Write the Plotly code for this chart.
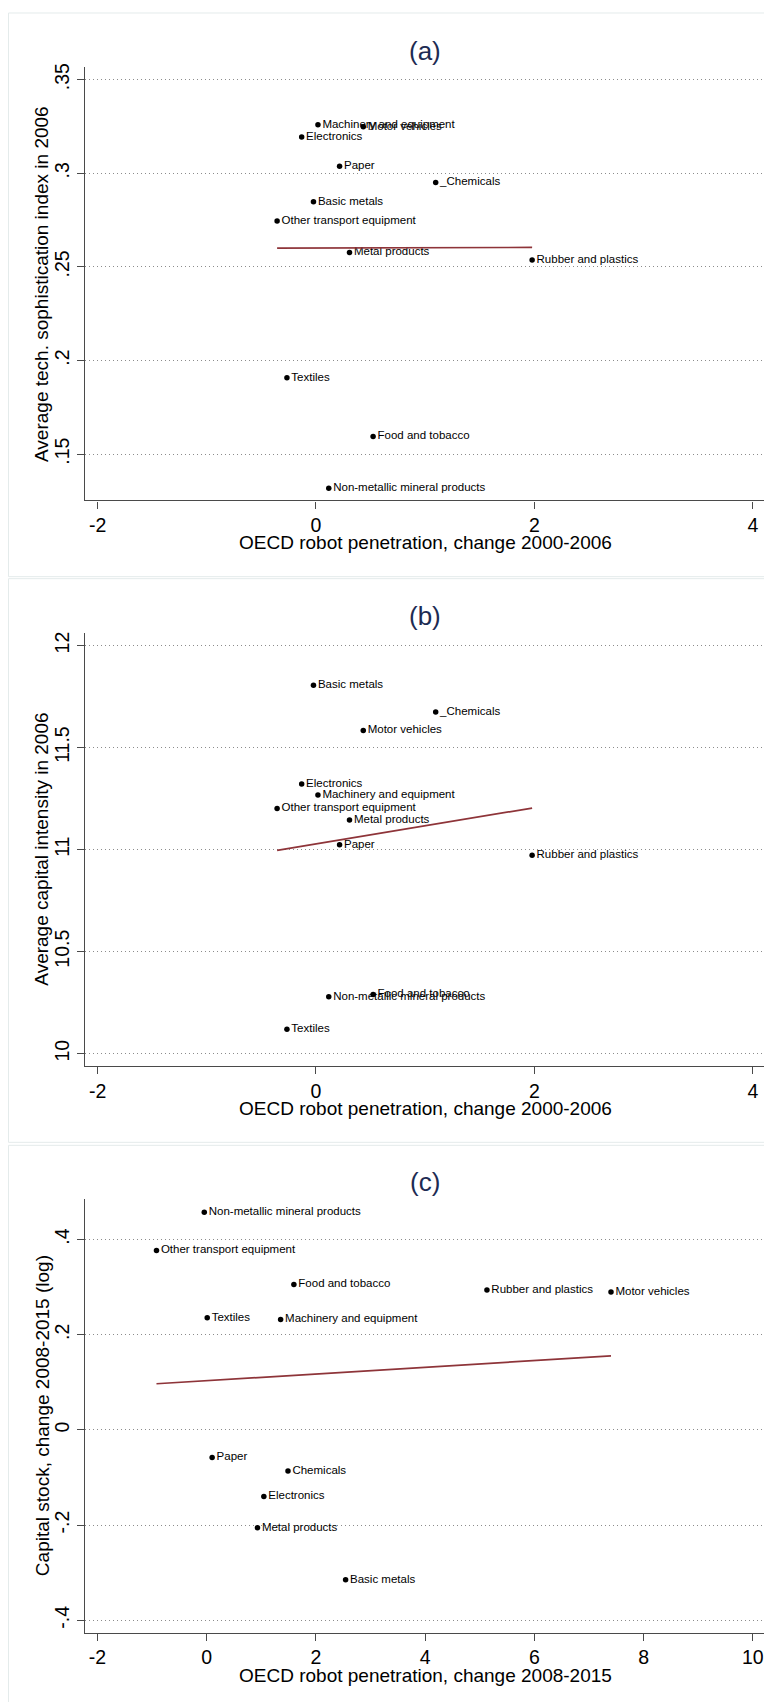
import numpy as np
import plotly.graph_objects as go

# ---------------- data ----------------
industries_ab = ["Machinery and equipment", "Motor vehicles", "Electronics", "Paper",
                 "_Chemicals", "Basic metals", "Other transport equipment", "Metal products",
                 "Rubber and plastics", "Textiles", "Food and tobacco",
                 "Non-metallic mineral products"]
robot_change_2000_2006 = [0.018, 0.433, -0.131, 0.216, 1.096, -0.023, -0.356, 0.307,
                          1.979, -0.266, 0.523, 0.117]
tech_soph_2006 = [0.3259, 0.3248, 0.3194, 0.3037, 0.2950, 0.2847, 0.2745, 0.2577,
                  0.2537, 0.1908, 0.1593, 0.1317]
cap_intensity_2006 = [11.267, 11.583, 11.321, 11.024, 11.674, 11.805, 11.201, 11.145,
                      10.972, 10.119, 10.290, 10.279]

industries_c = ["Non-metallic mineral products", "Other transport equipment", "Food and tobacco",
                "Rubber and plastics", "Motor vehicles", "Textiles", "Machinery and equipment",
                "Paper", "Chemicals", "Electronics", "Metal products", "Basic metals"]
robot_change_2008_2015 = [-0.045, -0.92, 1.596, 5.131, 7.403, 0.009, 1.353, 0.099,
                          1.488, 1.046, 0.929, 2.543]
capstock_change_2008_2015 = [0.4574, 0.3771, 0.3052, 0.2937, 0.2899, 0.2356, 0.2317,
                             -0.0581, -0.0864, -0.140, -0.2057, -0.3151]

panel_titles = ["(a)", "(b)", "(c)"]
x_titles = ["OECD robot penetration, change 2000-2006",
            "OECD robot penetration, change 2000-2006",
            "OECD robot penetration, change 2008-2015"]
y_titles = ["Average tech. sophistication index in 2006",
            "Average capital intensity in 2006",
            "Capital stock, change 2008-2015 (log)"]
x_tickvals = [[-2, 0, 2, 4], [-2, 0, 2, 4], [-2, 0, 2, 4, 6, 8, 10]]
x_ticktext = [["-2", "0", "2", "4"], ["-2", "0", "2", "4"],
              ["-2", "0", "2", "4", "6", "8", "10"]]
y_tickvals = [[0.15, 0.2, 0.25, 0.3, 0.35], [10, 10.5, 11, 11.5, 12],
              [-0.4, -0.2, 0, 0.2, 0.4]]
y_ticktext = [[".15", ".2", ".25", ".3", ".35"], ["10", "10.5", "11", "11.5", "12"],
              ["-.4", "-.2", "0", ".2", ".4"]]

# ---------------- layout geometry (page pixels) ----------------
PAGE_W, PAGE_H = 772, 1702
OFF = 8  # default body margin of the html page
W, H = PAGE_W - OFF, PAGE_H - OFF
FONT = "Liberation Sans, Arial, Helvetica, sans-serif"
plot_left, plot_right = 85, 765.6
panels = [
    dict(top=63.6, bot=497.6, xr=[-2.115, 4.117], yr=[0.1252, 0.3565],
         ty=47, xty=540, ft=9, fb=574),
    dict(top=630.7, bot=1064.6, xr=[-2.115, 4.117], yr=[9.939, 12.06],
         ty=613, xty=1107.5, ft=576, fb=1141),
    dict(top=1198.2, bot=1632.7, xr=[-2.229, 10.234], yr=[-0.4266, 0.4843],
         ty=1181, xty=1675.4, ft=1144, fb=1720),
]

data_sets = [
    (robot_change_2000_2006, tech_soph_2006, industries_ab),
    (robot_change_2000_2006, cap_intensity_2006, industries_ab),
    (robot_change_2008_2015, capstock_change_2008_2015, industries_c),
]


def px_x(p):
    return (p - OFF) / W


def px_y(p):
    return 1 - (p - OFF) / H


fig = go.Figure()
annotations = []
shapes = []
axis_common = dict(showline=True, linecolor="#4a4a4a", linewidth=1.2, ticks="outside",
                   ticklen=7, tickwidth=1.2, tickcolor="#4a4a4a", zeroline=False,
                   tickfont=dict(family=FONT, size=19.5, color="#000000"), mirror=False)

for i, (pn, (xs, ys, labels)) in enumerate(zip(panels, data_sets)):
    k = "" if i == 0 else str(i + 1)
    xa, ya = "x" + k, "y" + k
    fig.add_trace(go.Scatter(
        x=xs, y=ys, text=labels, mode="markers+text", textposition="middle right",
        marker=dict(color="#000000", size=5.5),
        textfont=dict(family=FONT, size=11.5, color="#000000"),
        cliponaxis=False, showlegend=False, xaxis=xa, yaxis=ya, hoverinfo="skip"))
    slope, intercept = np.polyfit(np.array(xs), np.array(ys), 1)
    fx = np.array([min(xs), max(xs)])
    fig.add_trace(go.Scatter(
        x=fx, y=slope * fx + intercept, mode="lines",
        line=dict(color="#8e3439", width=1.7), showlegend=False,
        xaxis=xa, yaxis=ya, hoverinfo="skip"))

    fig.layout["xaxis" + k] = dict(
        axis_common, domain=[px_x(plot_left), min(1, px_x(plot_right))], anchor=ya,
        range=pn["xr"], tickvals=x_tickvals[i], ticktext=x_ticktext[i], showgrid=False)
    fig.layout["yaxis" + k] = dict(
        axis_common, domain=[px_y(pn["bot"]), px_y(pn["top"])], anchor=xa,
        range=pn["yr"], tickvals=y_tickvals[i], ticktext=y_ticktext[i], tickangle=-90,
        showgrid=True, gridcolor="#8c8c8c", griddash="1px,3px", gridwidth=1)

    annotations.append(dict(text=panel_titles[i], xref="paper", yref="paper",
                            x=px_x(424.5), y=px_y(pn["ty"]), xanchor="center",
                            yanchor="middle", showarrow=False,
                            font=dict(family=FONT, size=26, color="#1d2b53")))
    annotations.append(dict(text=x_titles[i], xref="paper", yref="paper",
                            x=px_x((plot_left + plot_right) / 2), y=px_y(pn["xty"]),
                            xanchor="center", yanchor="middle", showarrow=False,
                            font=dict(family=FONT, size=19, color="#000000")))
    annotations.append(dict(text=y_titles[i], xref="paper", yref="paper",
                            x=px_x(42), y=px_y((pn["top"] + pn["bot"]) / 2),
                            xanchor="center", yanchor="middle", textangle=-90,
                            showarrow=False,
                            font=dict(family=FONT, size=19, color="#000000")))
    shapes.append(dict(type="rect", xref="paper", yref="paper",
                       x0=px_x(8.5), x1=1.05, y0=px_y(pn["fb"]), y1=px_y(pn["ft"]),
                       line=dict(color="#e4ebeb", width=1), fillcolor="rgba(0,0,0,0)",
                       layer="below"))

fig.update_layout(width=W, height=H, margin=dict(l=0, r=0, t=0, b=0),
                  paper_bgcolor="#ffffff", plot_bgcolor="#ffffff",
                  annotations=annotations, shapes=shapes, showlegend=False)

fig.write_html("out.html")
